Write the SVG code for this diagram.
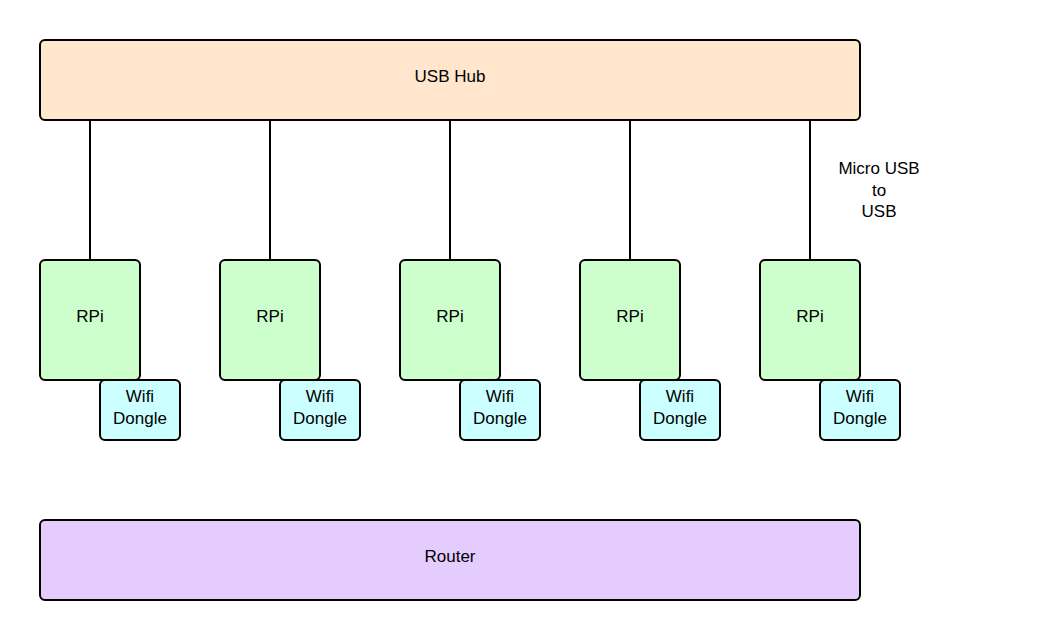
<svg xmlns="http://www.w3.org/2000/svg" width="1040" height="640" viewBox="0 0 1040 640">
<style>
rect{stroke:#000;stroke-width:2}
.hub{fill:#ffe6cc}
.rpi{fill:#ccffcc}
.dg{fill:#ccffff}
.rt{fill:#e5ccff}
text{font-family:"Liberation Sans",Arial,sans-serif;font-size:17px;fill:#000;text-anchor:middle}
.c line{stroke:#000;stroke-width:2}
</style>
<rect width="1040" height="640" fill="#fff" style="stroke:none"/>
<g class="c" id="connectors">
<line x1="90" y1="120" x2="90" y2="260"/>
<line x1="270" y1="120" x2="270" y2="260"/>
<line x1="450" y1="120" x2="450" y2="260"/>
<line x1="630" y1="120" x2="630" y2="260"/>
<line x1="810" y1="120" x2="810" y2="260"/>
<text x="879" y="174">Micro USB</text>
<text x="879" y="196">to</text>
<text x="879" y="217">USB</text>
</g>
<g id="hub"><rect class="hub" x="40" y="40" width="820" height="80" rx="5"/><text x="450" y="82">USB Hub</text></g>
<g id="rpi1"><rect class="rpi" x="40" y="260" width="100" height="120" rx="5"/><text x="90" y="322">RPi</text></g>
<g id="rpi2"><rect class="rpi" x="220" y="260" width="100" height="120" rx="5"/><text x="270" y="322">RPi</text></g>
<g id="rpi3"><rect class="rpi" x="400" y="260" width="100" height="120" rx="5"/><text x="450" y="322">RPi</text></g>
<g id="rpi4"><rect class="rpi" x="580" y="260" width="100" height="120" rx="5"/><text x="630" y="322">RPi</text></g>
<g id="rpi5"><rect class="rpi" x="760" y="260" width="100" height="120" rx="5"/><text x="810" y="322">RPi</text></g>
<g id="dongle1"><rect class="dg" x="100" y="380" width="80" height="60" rx="5"/><text x="140" y="402">Wifi</text><text x="140" y="424">Dongle</text></g>
<g id="dongle2"><rect class="dg" x="280" y="380" width="80" height="60" rx="5"/><text x="320" y="402">Wifi</text><text x="320" y="424">Dongle</text></g>
<g id="dongle3"><rect class="dg" x="460" y="380" width="80" height="60" rx="5"/><text x="500" y="402">Wifi</text><text x="500" y="424">Dongle</text></g>
<g id="dongle4"><rect class="dg" x="640" y="380" width="80" height="60" rx="5"/><text x="680" y="402">Wifi</text><text x="680" y="424">Dongle</text></g>
<g id="dongle5"><rect class="dg" x="820" y="380" width="80" height="60" rx="5"/><text x="860" y="402">Wifi</text><text x="860" y="424">Dongle</text></g>
<g id="router"><rect class="rt" x="40" y="520" width="820" height="80" rx="5"/><text x="450" y="562">Router</text></g>
</svg>
